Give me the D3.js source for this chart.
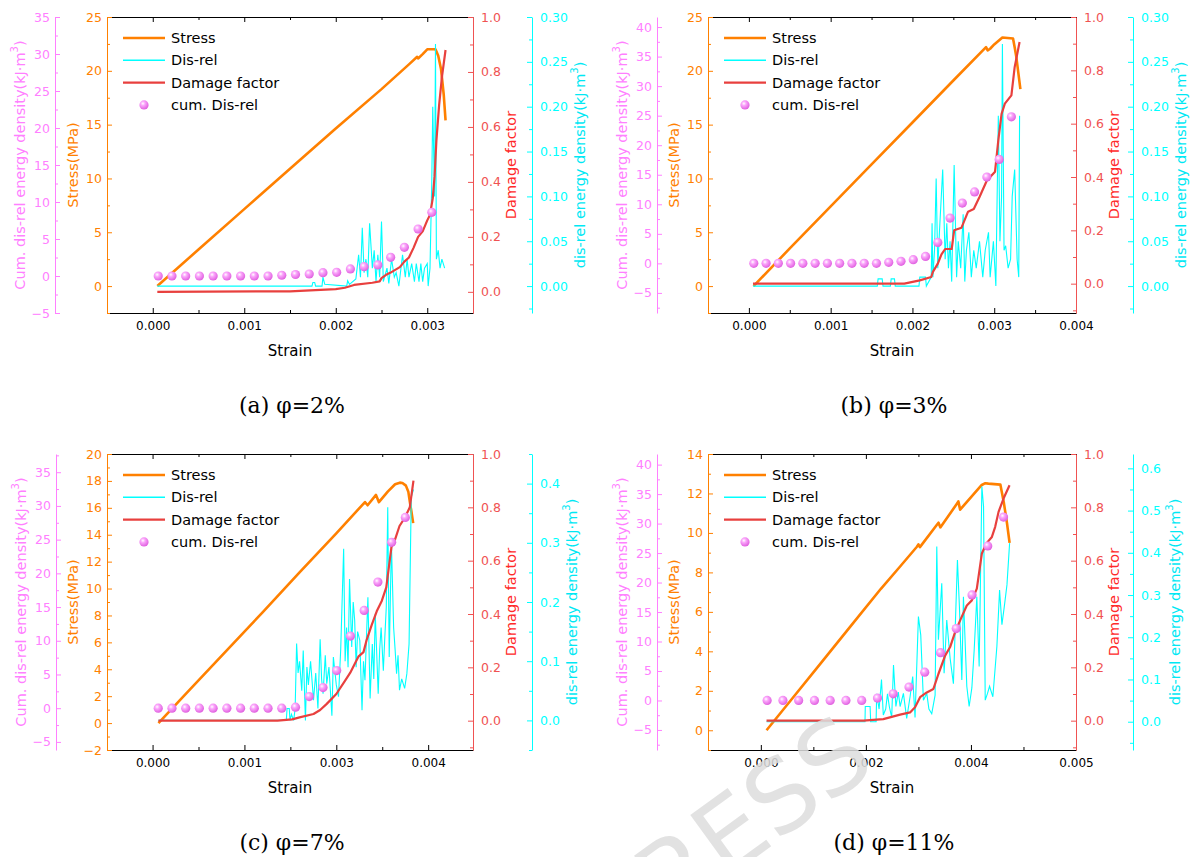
<!DOCTYPE html>
<html>
<head>
<meta charset="utf-8">
<script src="https://cdn.jsdelivr.net/npm/d3@7"></script>
<style>
  body { margin: 0; background: #fff; }
  svg { display: block; }
</style>
</head>
<body>
<svg id="chart" width="1195" height="857"></svg>
<script>
// ---- data: [strain, value] ----

// (a) phi = 2%
let stressA = [[0.00005,0],[0.0005,3.4],[0.001,7.15],[0.0015,10.9],[0.002,14.65],[0.0025,18.3],[0.0028,20.6],[0.00289,21.3],[0.0029,21.15],[0.00295,21.55],[0.003,22.0],[0.00309,22.0],[0.00312,21.4],[0.00315,20.2],[0.00318,17.8],[0.0032,15.4]];
let cyanA = [[0.00005,0],[0.00174,0],[0.00175,0.004],[0.00177,0.004],[0.00178,0],[0.00185,0],[0.00186,0.01],[0.00188,0.002],[0.00212,0],[0.00213,0.006],[0.00215,0.002],[0.00222,0.008],[0.00225,0.035],[0.00227,0.01],[0.00229,0.065],[0.00231,0.015],[0.00233,0.03],[0.00235,0.01],[0.00237,0.07],[0.0024,0.02],[0.00242,0.04],[0.00244,0.005],[0.00246,0.035],[0.00248,0.01],[0.0025,0.072],[0.00252,0.005],[0.00256,0.02],[0.00258,0.003],[0.00261,0.03],[0.00264,0.01],[0.00266,0.015],[0.00269,0.0],[0.00273,0.035],[0.00276,0.01],[0.00278,0.03],[0.0028,0.01],[0.00283,0.025],[0.00286,0.005],[0.00288,0.025],[0.00291,0.005],[0.00293,0.025],[0.00295,0.005],[0.00297,0.02],[0.003,0.025],[0.00301,0.0],[0.00303,0.02],[0.00305,0.12],[0.00306,0.2],[0.00308,0.1],[0.00309,0.27],[0.0031,0.03],[0.00312,0.04],[0.00314,0.02],[0.00316,0.03],[0.00319,0.02]];
let damageA = [[0.00005,0],[0.0015,0.002],[0.002,0.01],[0.0021,0.015],[0.0022,0.025],[0.0024,0.033],[0.00248,0.038],[0.0025,0.05],[0.00255,0.062],[0.0026,0.07],[0.0027,0.09],[0.00275,0.11],[0.0028,0.125],[0.00285,0.16],[0.0029,0.2],[0.00295,0.22],[0.003,0.26],[0.00303,0.28],[0.00306,0.34],[0.00308,0.42],[0.0031,0.55],[0.00313,0.68],[0.00316,0.78],[0.0032,0.88]];
let cumA = [[0.00006,0],[0.00021,0],[0.00036,0],[0.00051,0],[0.00066,0],[0.00081,0],[0.00096,0],[0.00111,0],[0.00126,0],[0.00141,0.1],[0.00156,0.2],[0.00171,0.27],[0.00186,0.45],[0.00201,0.5],[0.00216,0.95],[0.00231,1.26],[0.00246,1.49],[0.0026,2.52],[0.00275,3.87],[0.0029,6.35],[0.00305,8.6]];

// (b) phi = 3%
let stressB = [[0.000057,0],[0.0005,3.5],[0.001,7.4],[0.0015,11.3],[0.002,15.2],[0.0025,19.1],[0.0029,22.2],[0.00292,21.9],[0.00295,22.05],[0.003,22.45],[0.0031,23.1],[0.00323,23.0],[0.00325,22.2],[0.00327,21.3],[0.00332,18.3]];
let cyanB = [[0.00005,0],[0.00157,0],[0.00158,0.008],[0.00163,0.008],[0.00164,0],[0.00173,0],[0.00174,0.008],[0.00178,0.008],[0.00179,0],[0.00208,0],[0.00209,0.01],[0.00216,0.01],[0.00217,0],[0.00223,0.01],[0.00224,0.07],[0.00225,0.01],[0.00227,0.04],[0.00229,0.12],[0.00231,0.02],[0.00233,0.06],[0.00237,0.13],[0.0024,0.03],[0.00242,0.07],[0.00244,0.02],[0.00246,0.05],[0.00248,0.005],[0.00251,0.135],[0.00254,0.01],[0.00256,0.05],[0.00259,0.02],[0.00262,0.08],[0.00264,0.005],[0.00266,0.04],[0.00269,0.06],[0.00272,0.01],[0.00275,0.04],[0.00278,0.02],[0.00282,0.05],[0.00286,0.01],[0.00289,0.04],[0.00293,0.06],[0.00295,0.01],[0.00299,0.05],[0.00302,0.0],[0.00305,0.19],[0.00307,0.05],[0.00309,0.1],[0.0031,0.27],[0.00312,0.04],[0.00314,0.045],[0.00317,0.02],[0.0032,0.03],[0.00322,0.1],[0.00325,0.13],[0.00328,0.03],[0.0033,0.01],[0.00331,0.19]];
let damageB = [[0.00005,0],[0.0019,0],[0.00209,0.0125],[0.00223,0.025],[0.00225,0.044],[0.00231,0.075],[0.002355,0.11],[0.0024,0.13],[0.00248,0.13],[0.00251,0.2],[0.0026,0.21],[0.00268,0.27],[0.00275,0.28],[0.00282,0.325],[0.00291,0.387],[0.00301,0.42],[0.00305,0.537],[0.00309,0.637],[0.00313,0.675],[0.00321,0.706],[0.00325,0.812],[0.00331,0.906]];
let cumB = [[0.00006,0],[0.00021,0],[0.00036,0],[0.00051,0],[0.00066,0],[0.00081,0],[0.00096,0],[0.00111,0],[0.00126,0],[0.00141,0],[0.00156,0],[0.00171,0.17],[0.00186,0.34],[0.00201,0.62],[0.00216,1.18],[0.00231,3.55],[0.00246,7.67],[0.00261,10.2],[0.00276,12.1],[0.00291,14.6],[0.00306,17.6],[0.00321,24.8]];

// (c) phi = 7%
let stressC = [[0.00008,0],[0.0005,2.45],[0.001,5.35],[0.0015,8.25],[0.002,11.2],[0.0025,14.1],[0.00289,16.43],[0.002926,16.19],[0.00304,16.96],[0.00308,16.42],[0.0032,17.2],[0.0033,17.75],[0.003365,17.87],[0.0034,17.85],[0.003447,17.65],[0.00348,17.2],[0.0035,16.46],[0.00352,15.8],[0.003546,14.86]];
let cyanC = [[0.00008,0],[0.00182,0],[0.00183,0.02],[0.00186,0.02],[0.00187,0],[0.00189,0.01],[0.00192,0.0],[0.00194,0.02],[0.00196,0.13],[0.00198,0.08],[0.002,0.1],[0.00203,0.05],[0.00205,0.118],[0.00208,0.0],[0.0021,0.09],[0.00212,0.06],[0.00215,0.1],[0.00219,0.034],[0.00222,0.08],[0.00225,0.02],[0.00228,0.137],[0.0023,0.07],[0.00232,0.045],[0.00235,0.11],[0.00237,0.062],[0.0024,0.09],[0.00244,0.008],[0.00246,0.107],[0.0025,0.06],[0.00253,0.04],[0.00256,0.12],[0.0026,0.29],[0.00262,0.1],[0.00264,0.157],[0.00266,0.09],[0.00268,0.239],[0.00271,0.124],[0.00273,0.2],[0.00275,0.169],[0.00277,0.09],[0.00279,0.15],[0.00282,0.135],[0.00285,0.017],[0.00287,0.1],[0.00289,0.068],[0.00291,0.14],[0.00293,0.208],[0.00296,0.037],[0.00299,0.129],[0.00301,0.07],[0.00303,0.18],[0.00307,0.045],[0.00309,0.12],[0.00311,0.157],[0.00314,0.084],[0.00316,0.14],[0.00318,0.191],[0.0032,0.36],[0.00322,0.107],[0.00325,0.3],[0.00328,0.157],[0.0033,0.12],[0.00332,0.079],[0.00334,0.11],[0.00336,0.051],[0.00339,0.07],[0.00343,0.054],[0.00346,0.079],[0.00349,0.129],[0.00352,0.377],[0.00355,0.39]];
let damageC = [[0.00008,0],[0.0017,0],[0.0019,0.005],[0.002,0.0125],[0.00219,0.025],[0.00228,0.04],[0.00237,0.063],[0.0025,0.1],[0.00262,0.15],[0.00269,0.18],[0.0028,0.24],[0.00287,0.257],[0.00291,0.3],[0.00298,0.357],[0.00305,0.41],[0.00312,0.45],[0.00318,0.5],[0.00325,0.65],[0.0033,0.68],[0.00336,0.73],[0.00343,0.76],[0.0035,0.8],[0.00355,0.9]];
let cumC = [[0.000077,0],[0.000264,0],[0.000451,0],[0.000637,0],[0.000824,0],[0.001011,0],[0.001198,0],[0.001384,0],[0.001571,0],[0.001758,0],[0.001945,0.15],[0.002132,1.73],[0.002319,3.06],[0.002505,5.58],[0.002692,10.7],[0.002879,14.5],[0.003066,18.7],[0.003253,24.6],[0.003439,28.3]];

// (d) phi = 11%
let stressD = [[0.000095,0],[0.0005,1.52],[0.001,3.4],[0.0015,5.29],[0.002,7.17],[0.00232,8.3],[0.0026,9.3],[0.002625,9.42],[0.00265,9.28],[0.00293,10.4],[0.00296,10.52],[0.00299,10.28],[0.00326,11.45],[0.00329,11.6],[0.00332,11.18],[0.00368,12.43],[0.00374,12.52],[0.00379,12.5],[0.00399,12.45],[0.00405,11.5],[0.0041,10.5],[0.004144,9.5]];
let cyanD = [[0.000095,0],[0.001735,0],[0.00174,0.036],[0.00182,0.036],[0.00183,0],[0.00192,0],[0.00193,0.066],[0.00197,0.03],[0.00201,0.1],[0.00204,0.016],[0.00208,0.03],[0.00211,0.066],[0.00214,0.036],[0.00218,0.01],[0.00221,0.134],[0.00225,0.036],[0.00229,0.07],[0.00232,0.036],[0.002375,0.067],[0.00243,0.008],[0.002486,0.059],[0.00253,0.107],[0.002569,0.01],[0.002625,0.249],[0.002664,0.205],[0.002708,0.051],[0.002764,0.067],[0.0028,0.03],[0.002847,0.019],[0.002903,0.063],[0.002931,0.415],[0.002958,0.194],[0.003014,0.328],[0.003053,0.115],[0.003097,0.241],[0.003153,0.15],[0.003208,0.09],[0.003275,0.383],[0.003308,0.272],[0.003348,0.099],[0.003375,0.296],[0.003431,0.084],[0.00347,0.036],[0.003515,0.08],[0.003554,0.17],[0.003598,0.296],[0.003637,0.131],[0.003682,0.557],[0.00371,0.51],[0.003738,0.051],[0.003776,0.067],[0.00381,0.084],[0.003865,0.059],[0.003932,0.178],[0.003977,0.312],[0.004016,0.23],[0.004055,0.272],[0.0041,0.324],[0.004144,0.423]];
let damageD = [[0.000095,0],[0.00171,0],[0.00204,0.006],[0.00232,0.0225],[0.002486,0.031],[0.002569,0.05],[0.002653,0.088],[0.002764,0.106],[0.002875,0.119],[0.002958,0.175],[0.00307,0.244],[0.003153,0.276],[0.003236,0.332],[0.00332,0.376],[0.003431,0.432],[0.003515,0.451],[0.003598,0.495],[0.003682,0.627],[0.003754,0.664],[0.003849,0.689],[0.003904,0.727],[0.00396,0.783],[0.004043,0.833],[0.004143,0.883]];
let cumD = [[0.000105,0],[0.000368,0],[0.00063,0],[0.000893,0],[0.001155,0],[0.001418,0],[0.00168,0],[0.001943,0.4],[0.002205,1.13],[0.002468,2.27],[0.00273,4.8],[0.002993,8.1],[0.003255,12.2],[0.003518,17.9],[0.00378,26.2],[0.004043,31.1]];

// tick values / labels
let xTicksAB = [0, 0.001, 0.002, 0.003, 0.004];
let xTicksC = [0, 0.00125, 0.0025, 0.00375];
let xLabelsC = ["0.000", "0.001", "0.003", "0.004"];
let xTicksD = [0, 0.00175, 0.0035, 0.00525];
let xLabelsD = ["0.000", "0.002", "0.004", "0.005"];
let legendNames = ["Stress", "Dis-rel", "Damage factor", "cum. Dis-rel"];
let captions = ["(a) φ=2%", "(b) φ=3%", "(c) φ=7%", "(d) φ=11%"];

// colours
let cStress = "#ff8000", cCyan = "#00ffff", cDamage = "#e8403e", cDamageAx = "#f05252", cPink = "#ff80ff";
let font = "DejaVu Sans";

let svg = d3.select("#chart");

// sphere look for the cum. markers
let grad = svg.append("defs").append("radialGradient").attr("id", "ball")
  .attr("cx", "38%").attr("cy", "35%").attr("r", "65%");
grad.append("stop").attr("offset", "0%").attr("stop-color", "#ffffff");
grad.append("stop").attr("offset", "35%").attr("stop-color", "#fba6fb");
grad.append("stop").attr("offset", "100%").attr("stop-color", "#e061e0");

function range(a, b, s){
  // tick helper, rounded to avoid float noise
  let out = [];
  for (let v = a; v <= b + s/1000; v += s) out.push(+v.toFixed(6));
  return out;
}

let panels = [
  { left:107, right:473, top:17, bottom:313, pinkX:55, cyanX:532, cyanTitleDx:48,
    x:[-0.0005,0.0035], xt:[0,0.001,0.002,0.003], xl:null, xm:[0.0005,0.0015,0.0025],
    s:[-2.5,25], st:range(0,25,5), sm:range(-2.5,22.5,5), sf:d3.format("d"),
    p:[-5,35], pt:range(-5,35,5), pm:range(-2.5,32.5,5),
    d:[-0.077,1], dt:range(0,1,0.2), dm:range(0.1,0.9,0.2),
    c:[-0.03,0.30], ct:range(0,0.3,0.05), cm:range(-0.025,0.275,0.05), cf:d3.format(".2f"),
    stress:stressA, cyan:cyanA, damage:damageA, cum:cumA, caption:captions[0] },
  { left:708, right:1076, top:17, bottom:313, pinkX:657, cyanX:1133, cyanTitleDx:48,
    x:[-0.0005,0.004], xt:xTicksAB, xl:null, xm:[0.0005,0.0015,0.0025,0.0035],
    s:[-2.5,25], st:range(0,25,5), sm:range(-2.5,22.5,5), sf:d3.format("d"),
    p:[-8.4,41.7], pt:range(-5,40,5), pm:range(-7.5,37.5,5),
    d:[-0.11,1], dt:range(0,1,0.2), dm:range(-0.1,0.9,0.2),
    c:[-0.03,0.30], ct:range(0,0.3,0.05), cm:range(-0.025,0.275,0.05), cf:d3.format(".2f"),
    stress:stressB, cyan:cyanB, damage:damageB, cum:cumB, caption:captions[1] },
  { left:107, right:473, top:454, bottom:750, pinkX:56, cyanX:532, cyanTitleDx:40,
    x:[-0.00062,0.00436], xt:xTicksC, xl:xLabelsC, xm:[0.000625,0.001875,0.003125],
    s:[-2,20], st:range(-2,20,2), sm:range(-1,19,2), sf:d3.format("d"),
    p:[-6.2,37.7], pt:range(-5,35,5), pm:range(-2.5,37.5,5),
    d:[-0.11,1], dt:range(0,1,0.2), dm:range(-0.1,0.9,0.2),
    c:[-0.05,0.45], ct:range(0,0.4,0.1), cm:range(-0.05,0.45,0.1), cf:d3.format(".1f"),
    stress:stressC, cyan:cyanC, damage:damageC, cum:cumC, caption:captions[2] },
  { left:708, right:1076, top:454, bottom:750, pinkX:657, cyanX:1133, cyanTitleDx:42,
    x:[-0.00088,0.00525], xt:xTicksD, xl:xLabelsD, xm:[0.000875,0.002625,0.004375],
    s:[-1,14], st:range(0,14,2), sm:range(-1,13,2), sf:d3.format("d"),
    p:[-8.4,41.8], pt:range(-5,40,5), pm:range(-7.5,37.5,5),
    d:[-0.11,1], dt:range(0,1,0.2), dm:range(-0.1,0.9,0.2),
    c:[-0.067,0.634], ct:range(0,0.6,0.1), cm:range(-0.05,0.55,0.1), cf:d3.format(".1f"),
    stress:stressD, cyan:cyanD, damage:damageD, cum:cumD, caption:captions[3] }
];

function styleAxis(g, color, size){
  g.attr("font-family", font).attr("font-size", size);
  g.selectAll("path, line").attr("stroke", color).attr("stroke-width", 1);
  g.selectAll("text").attr("fill", color);
}

// draws a y axis with major + minor ticks pointing right (side "left") or left (side "right")
function yAxis(scale, side, x, major, minor, fmt, color){
  let make = side === "left" ? d3.axisLeft : d3.axisRight;
  let pad = side === "left" ? 5 : 8;
  let g = svg.append("g").attr("transform", "translate(" + x + ",0)")
    .call(make(scale).tickValues(major).tickFormat(fmt).tickSizeInner(-5).tickSizeOuter(0).tickPadding(pad));
  styleAxis(g, color, 12.5);
  let gm = svg.append("g").attr("transform", "translate(" + x + ",0)")
    .call(make(scale).tickValues(minor).tickFormat("").tickSizeInner(-3).tickSizeOuter(0));
  gm.select(".domain").remove();
  styleAxis(gm, color, 12.5);
}

function vTitle(x, y, color, parts){
  let t = svg.append("text")
    .attr("transform", "translate(" + x + "," + y + ") rotate(-90)")
    .attr("text-anchor", "middle").attr("dominant-baseline", "central")
    .attr("font-family", font).attr("font-size", 14.5).attr("fill", color);
  parts.forEach(p => {
    let ts = t.append("tspan").text(p.t);
    if (p.sup) ts.attr("baseline-shift", "super").attr("font-size", 10);
  });
}

function drawPanel(p){
  let xScale = d3.scaleLinear().domain(p.x).range([p.left, p.right]);
  let sScale = d3.scaleLinear().domain(p.s).range([p.bottom, p.top]);
  let pScale = d3.scaleLinear().domain(p.p).range([p.bottom, p.top]);
  let dScale = d3.scaleLinear().domain(p.d).range([p.bottom, p.top]);
  let cScale = d3.scaleLinear().domain(p.c).range([p.bottom, p.top]);

  // series: stress, dis-rel, damage, then cumulative dots
  let line = sc => d3.line().x(d => xScale(d[0])).y(d => sc(d[1]));
  svg.append("path").datum(p.stress).attr("d", line(sScale))
    .attr("fill", "none").attr("stroke", cStress).attr("stroke-width", 2.6).attr("stroke-linejoin", "round");
  svg.append("path").datum(p.cyan).attr("d", line(cScale))
    .attr("fill", "none").attr("stroke", cCyan).attr("stroke-width", 1.1);
  svg.append("path").datum(p.damage).attr("d", line(dScale))
    .attr("fill", "none").attr("stroke", cDamage).attr("stroke-width", 2.2).attr("stroke-linejoin", "round");
  svg.append("g").selectAll("circle").data(p.cum).enter().append("circle")
    .attr("cx", d => xScale(d[0])).attr("cy", d => pScale(d[1]))
    .attr("r", 4.6).attr("fill", "url(#ball)");

  // x axes (bottom with labels, top plain)
  let xb = svg.append("g").attr("transform", "translate(0," + p.bottom + ")")
    .call(d3.axisBottom(xScale).tickValues(p.xt)
      .tickFormat((d, i) => p.xl ? p.xl[i] : d3.format(".3f")(d))
      .tickSizeInner(-5).tickSizeOuter(0).tickPadding(8));
  styleAxis(xb, "#000", 12);
  let xbm = svg.append("g").attr("transform", "translate(0," + p.bottom + ")")
    .call(d3.axisBottom(xScale).tickValues(p.xm).tickFormat("").tickSizeInner(-3).tickSizeOuter(0));
  xbm.select(".domain").remove();
  styleAxis(xbm, "#000", 12);
  let xt = svg.append("g").attr("transform", "translate(0," + p.top + ")")
    .call(d3.axisTop(xScale).tickValues(p.xt).tickFormat("").tickSizeInner(-5).tickSizeOuter(0));
  styleAxis(xt, "#000", 12);
  let xtm = svg.append("g").attr("transform", "translate(0," + p.top + ")")
    .call(d3.axisTop(xScale).tickValues(p.xm).tickFormat("").tickSizeInner(-3).tickSizeOuter(0));
  xtm.select(".domain").remove();
  styleAxis(xtm, "#000", 12);

  // four y axes
  yAxis(pScale, "left", p.pinkX, p.pt, p.pm, d3.format("d"), cPink);
  yAxis(sScale, "left", p.left, p.st, p.sm, p.sf, cStress);
  yAxis(dScale, "right", p.right, p.dt, p.dm, d3.format(".1f"), cDamageAx);
  yAxis(cScale, "right", p.cyanX, p.ct, p.cm, p.cf, cCyan);

  let midY = (p.top + p.bottom) / 2;
  vTitle(p.pinkX - 35, midY, cPink, [{t:"Cum. dis-rel energy density(kJ·m"}, {t:"3", sup:true}, {t:")"}]);
  vTitle(p.left - 34, midY, cStress, [{t:"Stress(MPa)"}]);
  vTitle(p.right + 38, midY, "#ff2a2a", [{t:"Damage factor"}]);
  vTitle(p.cyanX + p.cyanTitleDx, midY, "#00e8f4", [{t:"dis-rel energy density(kJ·m"}, {t:"3", sup:true}, {t:")"}]);

  let midX = (p.left + p.right) / 2;
  svg.append("text").attr("x", midX).attr("y", p.bottom + 38)
    .attr("text-anchor", "middle").attr("dominant-baseline", "central")
    .attr("font-family", font).attr("font-size", 15).text("Strain");

  svg.append("text").attr("x", midX + 2).attr("y", p.bottom + 92)
    .attr("text-anchor", "middle").attr("dominant-baseline", "central")
    .attr("font-family", "DejaVu Serif").attr("font-size", 22).text(p.caption);

  // legend
  let lg = svg.append("g").attr("transform", "translate(" + (p.left + 16) + "," + (p.top + 21) + ")");
  let styles = [
    {c:cStress, w:2.6}, {c:cCyan, w:1.6}, {c:cDamage, w:2.4}, null
  ];
  legendNames.forEach((name, i) => {
    let y = i * 22.3;
    if (styles[i]) {
      lg.append("line").attr("x1", 0).attr("x2", 42).attr("y1", y).attr("y2", y)
        .attr("stroke", styles[i].c).attr("stroke-width", styles[i].w);
    } else {
      lg.append("circle").attr("cx", 21).attr("cy", y).attr("r", 4.6).attr("fill", "url(#ball)");
    }
    lg.append("text").attr("x", 48).attr("y", y).attr("dominant-baseline", "central")
      .attr("font-family", font).attr("font-size", 14.5).attr("fill", "#000").text(name);
  });
}

panels.forEach(drawPanel);

// faint journal watermark at the bottom
svg.append("text")
  .attr("transform", "translate(879,768) rotate(-36)")
  .attr("text-anchor", "end")
  .attr("font-family", font).attr("font-size", 100)
  .attr("fill", "#dedede").attr("opacity", 0.85)
  .text("PRESS");
</script>
</body>
</html>
